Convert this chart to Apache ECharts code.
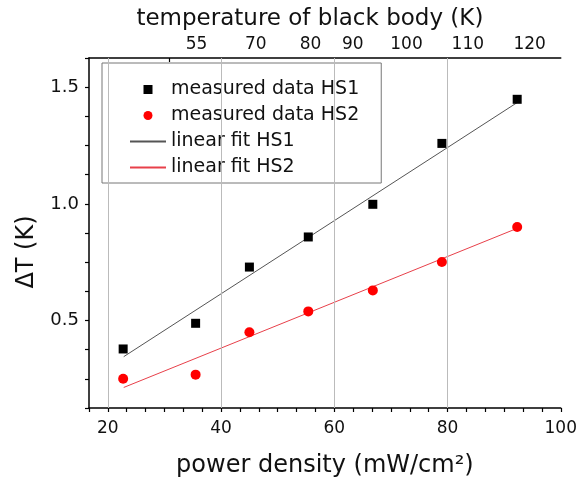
<!DOCTYPE html>
<html>
<head>
<meta charset="utf-8">
<script src="https://cdn.jsdelivr.net/npm/echarts@6/dist/echarts.min.js"></script>
<style>html,body{margin:0;padding:0;background:#fff}#c{width:580px;height:487px}</style>
</head>
<body>
<div id="c"></div>
<script>
// power density (mW/cm²)
var powerHS = [22.7, 35.5, 45.0, 55.4, 66.8, 79.0, 92.3];
var deltaHS1 = [0.378, 0.488, 0.729, 0.858, 0.998, 1.259, 1.448];
var deltaHS2 = [0.25, 0.268, 0.45, 0.539, 0.629, 0.751, 0.901];
// linear fit end points
var fitX = [22.8, 92.3];
var fitHS1 = [0.345, 1.434];
var fitHS2 = [0.213, 0.895];
// axes
var xMajor = [20, 40, 60, 80, 100];
var xMinor = [16.667, 20, 23.333, 26.667, 30, 33.333, 36.667, 40, 43.333, 46.667, 50, 53.333, 56.667, 60, 63.333, 66.667, 70, 73.333, 76.667, 80, 83.333, 86.667, 90, 93.333, 96.667, 100];
var xGrid = [20, 40, 60, 80];
var yMajor = [0.5, 1.0, 1.5];
var tempPos = [35.66, 46.14, 55.8, 63.27, 72.75, 83.58, 94.5];
var tempLabels = ['55', '70', '80', '90', '100', '110', '120'];
var tempTicks = [30.8];

function pairs(xs, ys) { return xs.map(function (x, i) { return [x, ys[i]]; }); }

var FONT = 'DejaVu Sans';
var C1 = '#555', C2 = '#e8404a';
var chart = echarts.init(document.getElementById('c'), null, {renderer: 'canvas'});
chart.setOption({
  animation: false,
  backgroundColor: '#fff',
  textStyle: {fontFamily: FONT},
  grid: {left: 89, right: 19, top: 58, bottom: 79, containLabel: false},
  legend: {
    orient: 'vertical', left: 102, top: 63,
    padding: [17, 22, 6, 27],
    itemGap: 7, itemWidth: 36, itemHeight: 9,
    symbolKeepAspect: true,
    borderColor: '#777', borderWidth: 1,
    textStyle: {fontFamily: FONT, fontSize: 19, color: '#111'},
    data: [
      {name: 'measured data HS1', icon: 'path://M0,0H10V10H0Z', itemStyle: {color: '#000', opacity: 1}},
      {name: 'measured data HS2', icon: 'circle', itemStyle: {color: '#ff0000', opacity: 1}},
      {name: 'linear fit HS1', itemStyle: {opacity: 0}},
      {name: 'linear fit HS2', itemStyle: {opacity: 0}}
    ]
  },
  xAxis: [{
    type: 'value', position: 'bottom', min: 16.667, max: 100,
    axisLine: {show: true, onZero: false, lineStyle: {color: '#000', width: 1.5}},
    axisTick: {show: true, customValues: xMinor, length: 4, inside: false, lineStyle: {color: '#000', width: 1.2}},
    axisLabel: {customValues: xMajor, margin: 12, fontSize: 17, color: '#111', fontFamily: FONT},
    splitLine: {show: false},
    name: 'power density (mW/cm²)', nameLocation: 'middle', nameGap: 46,
    nameTextStyle: {fontSize: 24, color: '#111', fontFamily: FONT}
  }, {
    type: 'value', position: 'top', min: 16.667, max: 100,
    axisLine: {show: true, onZero: false, lineStyle: {color: '#000', width: 1.5}},
    axisTick: {show: true, customValues: tempTicks, inside: true, length: 4, lineStyle: {color: '#000', width: 1.2}},
    axisLabel: {customValues: tempPos, margin: 5, fontSize: 17, color: '#111', fontFamily: FONT,
      formatter: function (v) {
        var best = 0, d = 1e9;
        for (var i = 0; i < tempPos.length; i++) { var dd = Math.abs(tempPos[i] - v); if (dd < d) { d = dd; best = i; } }
        return tempLabels[best];
      }},
    splitLine: {show: false},
    name: 'temperature of black body (K)', nameLocation: 'middle', nameGap: 27,
    nameTextStyle: {fontSize: 23, color: '#111', fontFamily: FONT, padding: [0, 30, 0, 0]}
  }],
  yAxis: [{
    type: 'value', min: 0.125, max: 1.625, interval: 0.125,
    axisLine: {show: true, onZero: false, lineStyle: {color: '#000', width: 1.5}},
    axisTick: {show: true, length: 4, lineStyle: {color: '#000', width: 1.2}},
    axisLabel: {customValues: yMajor, margin: 10, fontSize: 18, color: '#111', fontFamily: FONT,
      formatter: function (v) { return v.toFixed(1); }},
    splitLine: {show: false},
    name: 'ΔT (K)', nameLocation: 'middle', nameGap: 50,
    nameTextStyle: {fontSize: 24, color: '#111', fontFamily: FONT, padding: [0, 38, 0, 0]}
  }],
  series: [{
    name: 'linear fit HS1', type: 'line', xAxisIndex: 0, data: pairs(fitX, fitHS1),
    symbol: 'none', lineStyle: {color: C1, width: 1}, itemStyle: {color: C1}, z: 2,
    markLine: {silent: true, symbol: 'none', label: {show: false},
      lineStyle: {color: '#bbb', width: 1, type: 'solid'},
      data: xGrid.map(function (v) { return {xAxis: v}; })}
  }, {
    name: 'linear fit HS2', type: 'line', xAxisIndex: 0, data: pairs(fitX, fitHS2),
    symbol: 'none', lineStyle: {color: C2, width: 1}, itemStyle: {color: C2}, z: 2
  }, {
    name: 'measured data HS1', type: 'scatter', xAxisIndex: 0, data: pairs(powerHS, deltaHS1),
    symbol: 'rect', symbolSize: 9, itemStyle: {color: '#000', opacity: 1}, z: 3
  }, {
    name: 'measured data HS2', type: 'scatter', xAxisIndex: 0, data: pairs(powerHS, deltaHS2),
    symbol: 'circle', symbolSize: 10, itemStyle: {color: '#ff0000', opacity: 1}, z: 3
  }]
});
</script>
</body>
</html>
